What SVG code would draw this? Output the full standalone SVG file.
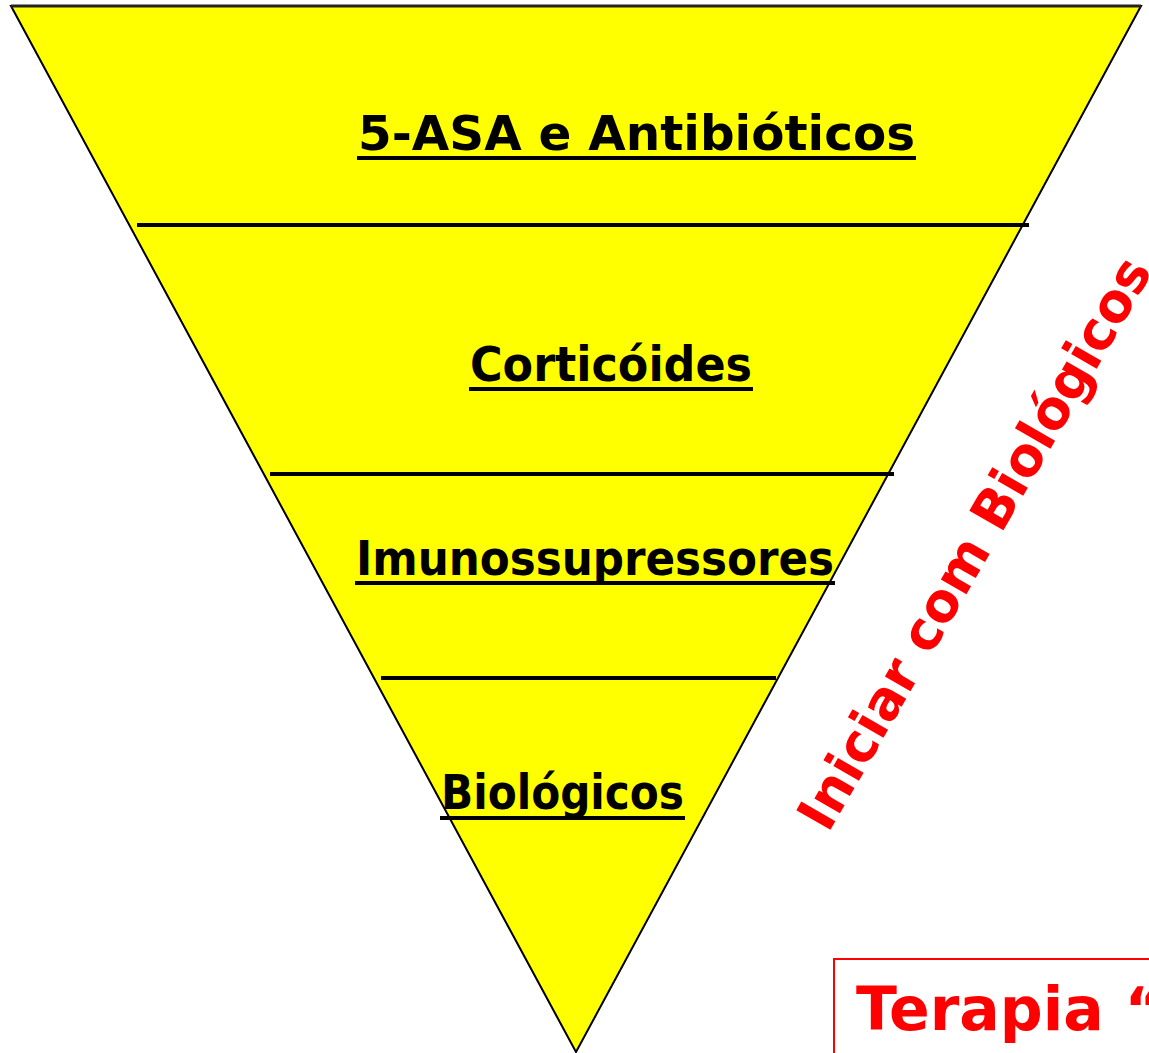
<svg xmlns="http://www.w3.org/2000/svg" width="1149" height="1053" viewBox="0 0 1149 1053">
<style>
.lbl{font-family:"DejaVu Sans","Liberation Sans",sans-serif;font-weight:bold;font-size:48px;fill:#000}
.ul{stroke:#000;stroke-width:4}
.sep{stroke:#000;stroke-width:4}
.red{font-family:"DejaVu Sans","Liberation Sans",sans-serif;font-weight:bold;fill:#ff0000}
</style>
<rect width="1149" height="1053" fill="#fff"/>
<g id="funnel">
<polygon points="11,6 1141,6 576,1052" fill="#ffff00" stroke="#000" stroke-width="2"/>
<line x1="11" y1="6" x2="1141" y2="6" stroke="#222" stroke-width="3"/>
</g>
<g id="connectors">
<line class="sep" x1="137" y1="225" x2="1029" y2="225"/>
<line class="sep" x1="270" y1="474" x2="894" y2="474"/>
<line class="sep" x1="381" y1="678" x2="776" y2="678"/>
</g>
<g id="node-5asa">
<text class="lbl" x="358" y="150" textLength="557" lengthAdjust="spacingAndGlyphs">5-ASA e Antibióticos</text>
<line class="ul" x1="357" y1="158" x2="916" y2="158"/>
</g>
<g id="node-corticoides">
<text class="lbl" x="470" y="381" textLength="282" lengthAdjust="spacingAndGlyphs">Corticóides</text>
<line class="ul" x1="469" y1="389" x2="753" y2="389"/>
</g>
<g id="node-imuno">
<text class="lbl" x="356" y="575" textLength="478" lengthAdjust="spacingAndGlyphs">Imunossupressores</text>
<line class="ul" x1="355" y1="583" x2="835" y2="583"/>
</g>
<g id="node-biologicos">
<text class="lbl" x="441" y="809" textLength="243" lengthAdjust="spacingAndGlyphs">Biológicos</text>
<line class="ul" x1="440" y1="818" x2="685" y2="818"/>
</g>
<g id="node-iniciar">
<text class="red" font-size="54" transform="translate(828,834) rotate(-60)" textLength="650" lengthAdjust="spacingAndGlyphs">Iniciar com Biológicos</text>
</g>
<g id="node-terapia">
<rect x="834" y="959" width="330" height="110" fill="none" stroke="#ff0000" stroke-width="2"/>
<text class="red" font-size="60" x="856" y="1030">Terapia “</text>
</g>
</svg>
